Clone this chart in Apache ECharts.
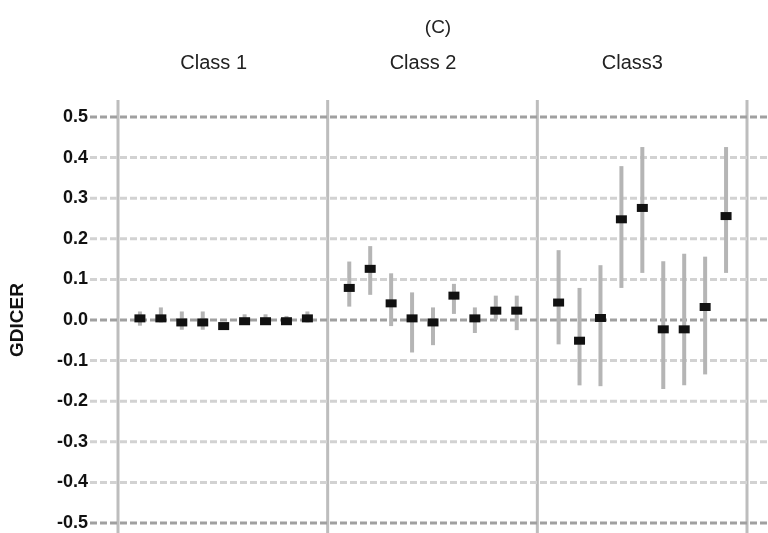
<!DOCTYPE html>
<html>
<head>
<meta charset="utf-8">
<script src="https://cdn.jsdelivr.net/npm/echarts@6/dist/echarts.min.js"></script>
<style>
  html, body { margin: 0; padding: 0; background: #ffffff; }
  #chart { width: 768px; height: 533px; }
</style>
</head>
<body>
<div id="chart"></div>
<script>
// Panel headings and y tick values
const classes = ['Class 1', 'Class 2', 'Class3'];
const yTicks = [-0.5, -0.4, -0.3, -0.2, -0.1, 0.0, 0.1, 0.2, 0.3, 0.4, 0.5];
const panelEdges = [0, 10, 20, 30];

// Point estimates and interval bounds, nine items per class
const class1Est = [0.004, 0.004, -0.006, -0.006, -0.015, -0.003, -0.003, -0.003, 0.004];
const class1Lo  = [-0.014, -0.006, -0.024, -0.024, -0.024, -0.006, -0.006, -0.010, -0.006];
const class1Hi  = [0.021, 0.031, 0.021, 0.021, -0.006, 0.014, 0.014, 0.010, 0.021];

const class2Est = [0.079, 0.126, 0.041, 0.004, -0.006, 0.060, 0.004, 0.023, 0.023];
const class2Lo  = [0.033, 0.062, -0.015, -0.080, -0.062, 0.015, -0.032, 0.001, -0.025];
const class2Hi  = [0.144, 0.182, 0.115, 0.068, 0.031, 0.089, 0.031, 0.060, 0.060];

const class3Est = [0.043, -0.051, 0.005, 0.248, 0.276, -0.023, -0.023, 0.032, 0.256];
const class3Lo  = [-0.060, -0.161, -0.163, 0.079, 0.116, -0.170, -0.161, -0.134, 0.116];
const class3Hi  = [0.172, 0.079, 0.135, 0.379, 0.426, 0.145, 0.163, 0.156, 0.426];

const estimates = [class1Est, class2Est, class3Est];
const lows = [class1Lo, class2Lo, class3Lo];
const highs = [class1Hi, class2Hi, class3Hi];

// Build [x, est, lo, hi] rows: each class occupies 10 x-units, items at 1..9
const rows = [];
estimates.forEach((est, c) => {
  est.forEach((v, i) => {
    rows.push([c * 10 + i + 1, v, lows[c][i], highs[c][i]]);
  });
});

// Plot box (data area) and how far the reference lines run past it
const W = 768, H = 533;
const box = { left: 118, right: 21, top: 117, bottom: 10 };
const ext = { left: 28, right: 0, top: 17, bottom: 0 };
const plotW = W - box.left - box.right;
const plotH = H - box.top - box.bottom;
const xSpan = 30, ySpan = 1.0;
const outer = {
  xMin: 0 - ext.left / plotW * xSpan,
  xMax: 30 + (box.right - ext.right) / plotW * xSpan,
  yMax: 0.5 + ext.top / plotH * ySpan,
  yMin: -0.5 - box.bottom / plotH * ySpan
};

const chart = echarts.init(document.getElementById('chart'), null, { renderer: 'canvas' });

const option = {
  animation: false,
  backgroundColor: '#ffffff',
  title: {
    text: '(C)',
    left: 433,
    top: 13,
    textAlign: 'center',
    textStyle: { fontFamily: 'Liberation Sans', fontSize: 19, fontWeight: 'normal', color: '#222' }
  },
  grid: [
    { left: box.left, right: box.right, top: box.top, bottom: box.bottom, containLabel: false },
    { left: box.left - ext.left, right: ext.right, top: box.top - ext.top, bottom: ext.bottom, containLabel: false }
  ],
  xAxis: [
    {
      gridIndex: 0, type: 'value', min: 0, max: 30, interval: 10,
      axisLine: { show: false }, axisTick: { show: false }, axisLabel: { show: false },
      splitLine: { show: false }
    },
    {
      gridIndex: 0, type: 'category', position: 'top', data: classes,
      axisLine: { show: false }, axisTick: { show: false }, splitLine: { show: false },
      axisLabel: {
        margin: 44, padding: [0, 20, 0, 0],
        fontFamily: 'Liberation Sans', fontSize: 20, color: '#222'
      }
    },
    {
      gridIndex: 1, type: 'value', min: outer.xMin, max: outer.xMax, show: false
    }
  ],
  yAxis: [
    {
      gridIndex: 0, type: 'value', min: -0.5, max: 0.5, interval: 0.1,
      name: 'GDICER', nameLocation: 'middle', nameGap: 92, nameRotate: 90,
      nameTextStyle: { fontFamily: 'Liberation Sans', fontSize: 19, fontWeight: 'bold', color: '#111' },
      axisLine: { show: false }, axisTick: { show: false }, splitLine: { show: false },
      axisLabel: {
        margin: 31,
        fontFamily: 'Liberation Sans', fontSize: 18, fontWeight: 'bold', color: '#111',
        formatter: v => v.toFixed(1)
      }
    },
    {
      gridIndex: 1, type: 'value', min: outer.yMin, max: outer.yMax, show: false
    }
  ],
  series: [
    {
      // panel separators
      type: 'custom', xAxisIndex: 2, yAxisIndex: 1, silent: true, clip: false, z: 1,
      data: panelEdges,
      renderItem: (params, api) => {
        const x = api.value(0);
        const p1 = api.coord([x, outer.yMax]);
        const p2 = api.coord([x, outer.yMin]);
        return { type: 'line', shape: { x1: p1[0], y1: p1[1], x2: p2[0], y2: p2[1] },
                 style: { stroke: '#bdbdbd', lineWidth: 3 } };
      }
    },
    {
      // horizontal dashed reference lines at each tick
      type: 'custom', xAxisIndex: 2, yAxisIndex: 1, silent: true, clip: false, z: 2,
      data: yTicks,
      renderItem: (params, api) => {
        const y = api.value(0);
        const p1 = api.coord([outer.xMin, y]);
        const p2 = api.coord([outer.xMax, y]);
        const strong = Math.abs(y) < 1e-9 || Math.abs(Math.abs(y) - 0.5) < 1e-9;
        return { type: 'line', shape: { x1: p1[0], y1: p1[1], x2: p2[0], y2: p2[1] },
                 style: { stroke: strong ? '#a0a0a0' : '#d2d2d2', lineWidth: 3, lineDash: [7, 3] } };
      }
    },
    {
      // interval bars
      type: 'custom', xAxisIndex: 0, yAxisIndex: 0, silent: true, z: 3,
      data: rows,
      encode: { x: 0, y: [2, 3] },
      renderItem: (params, api) => {
        const lo = api.coord([api.value(0), api.value(2)]);
        const hi = api.coord([api.value(0), api.value(3)]);
        return { type: 'line', shape: { x1: lo[0], y1: lo[1], x2: hi[0], y2: hi[1] },
                 style: { stroke: '#b5b5b5', lineWidth: 4 } };
      }
    },
    {
      // point estimates
      type: 'scatter', xAxisIndex: 0, yAxisIndex: 0, z: 4,
      data: rows.map(r => [r[0], r[1]]),
      symbol: 'rect', symbolSize: [11, 8],
      itemStyle: { color: '#111111', opacity: 1 }
    }
  ]
};

chart.setOption(option);
</script>
</body>
</html>
